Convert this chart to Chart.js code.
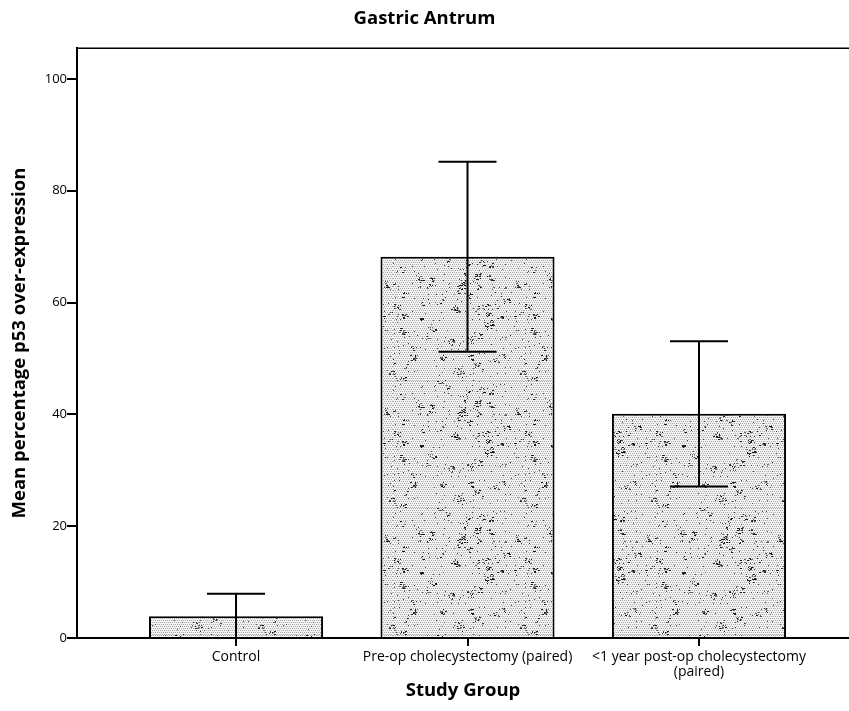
<!DOCTYPE html>
<html>
<head>
<meta charset="utf-8">
<script src="https://cdn.jsdelivr.net/npm/chart.js@4/dist/chart.umd.min.js"></script>
<style>
  html, body { margin: 0; padding: 0; background: #fff; }
  #wrap { width: 849px; height: 711px; }
</style>
</head>
<body>
<div id="wrap"><canvas id="c" width="849" height="711"></canvas></div>
<script>
// ---- data ----
const categories = ["Control", "Pre-op cholecystectomy (paired)", ["<1 year post-op cholecystectomy", "(paired)"]];
const meanValues = [3.9, 68.2, 40.1];
const errorValues = [4.0, 17.0, 13.0];
const yTickValues = [0, 20, 40, 60, 80, 100];

const FONT = "'Open Sans', 'DejaVu Sans', sans-serif";

// stippled bar texture (decoration only)
function makePattern() {
  const W = 131, H = 127;
  const p = document.createElement('canvas');
  p.width = W; p.height = H;
  const g = p.getContext('2d');
  g.fillStyle = '#f3f3f3';
  g.fillRect(0, 0, W, H);
  g.fillStyle = '#a8a8a8';
  for (let y = 0; y < H; y += 2) {
    for (let x = (y / 2) % 2; x < W; x += 2) {
      g.fillRect(x, y, 1, 1);
    }
  }
  let s = 987654;
  const rnd = () => { s = (s * 1103515245 + 12345) % 2147483648; return s / 2147483648; };
  // darker clusters
  for (let k = 0; k < 70; k++) {
    const cx = rnd() * W, cy = rnd() * H;
    const n = 3 + Math.floor(rnd() * 8);
    for (let j = 0; j < n; j++) {
      g.fillStyle = rnd() > 0.4 ? '#1a1a1a' : '#666';
      g.fillRect(Math.floor(cx + (rnd() - 0.5) * 6), Math.floor(cy + (rnd() - 0.5) * 6), 1 + Math.floor(rnd() * 2), 1);
    }
  }
  g.fillStyle = '#444';
  for (let k = 0; k < 250; k++) {
    g.fillRect(Math.floor(rnd() * W), Math.floor(rnd() * H), 1, 1);
  }
  return document.getElementById('c').getContext('2d').createPattern(p, 'repeat');
}

const errorBarPlugin = {
  id: 'errorBars',
  afterDatasetsDraw(chart) {
    const ctx = chart.ctx;
    const meta = chart.getDatasetMeta(0);
    const ys = chart.scales.y;
    ctx.save();
    ctx.strokeStyle = '#000';
    ctx.lineWidth = 2;
    meta.data.forEach((bar, i) => {
      const x = bar.x;
      const capHalf = bar.width / 6;
      const yHi = ys.getPixelForValue(meanValues[i] + errorValues[i]);
      const yLo = Math.min(ys.getPixelForValue(meanValues[i] - errorValues[i]), chart.chartArea.bottom);
      ctx.beginPath();
      ctx.moveTo(x, yHi); ctx.lineTo(x, yLo);
      ctx.moveTo(x - capHalf, yHi); ctx.lineTo(x + capHalf, yHi);
      if (meanValues[i] - errorValues[i] > 0) {
        ctx.moveTo(x - capHalf, yLo); ctx.lineTo(x + capHalf, yLo);
      }
      ctx.stroke();
    });
    // top frame line
    const a = chart.chartArea;
    ctx.lineWidth = 1.5;
    ctx.beginPath();
    ctx.moveTo(a.left, a.top); ctx.lineTo(a.right, a.top);
    ctx.stroke();
    ctx.restore();
  }
};

const chart = new Chart(document.getElementById('c'), {
  type: 'bar',
  data: {
    datasets: [{
      data: meanValues.map((v, i) => ({ x: i, y: v })),
      backgroundColor: makePattern(),
      borderColor: '#000',
      borderWidth: 2,
      barPercentage: 0.752,
      categoryPercentage: 1.0
    }]
  },
  options: {
    responsive: false,
    animation: false,
    layout: { padding: 0 },
    plugins: {
      legend: { display: false },
      tooltip: { enabled: false },
      title: {
        display: true,
        text: 'Gastric Antrum',
        color: '#000',
        font: { family: FONT, size: 18.5, weight: 'bold', lineHeight: 1.2 },
        padding: { top: 8, bottom: 18 }
      }
    },
    scales: {
      x: {
        type: 'linear',
        offset: false,
        min: -0.687,
        max: 2.648,
        afterBuildTicks: (s) => { s.ticks = categories.map((c, i) => ({ value: i })); },
        afterFit: (s) => { s.height = 73; },
        ticks: {
          autoSkip: false,
          maxRotation: 0,
          minRotation: 0,
          padding: 3,
          color: '#000',
          font: { family: FONT, size: 14, lineHeight: 1.1 },
          callback: (v) => categories[v]
        },
        grid: { display: true, offset: false, drawOnChartArea: false, drawTicks: true, tickLength: 8, color: '#000', lineWidth: 2 },
        border: { display: true, color: '#000', width: 2 },
        title: {
          display: true,
          text: 'Study Group',
          color: '#000',
          font: { family: FONT, size: 18.5, weight: 'bold', lineHeight: 1.2 },
          padding: { top: 0, bottom: 9 }
        }
      },
      y: {
        min: 0,
        max: 105.5,
        afterBuildTicks: (s) => { s.ticks = yTickValues.map(v => ({ value: v })); },
        afterFit: (s) => { s.width = 77; },
        ticks: {
          padding: 0,
          color: '#000',
          font: { family: FONT, size: 13 }
        },
        grid: { display: true, drawOnChartArea: false, drawTicks: true, tickLength: 10, color: '#000', lineWidth: 2 },
        border: { display: true, color: '#000', width: 2 },
        title: {
          display: true,
          text: 'Mean percentage p53 over-expression',
          color: '#000',
          font: { family: FONT, size: 18.5, weight: 'bold', lineHeight: 1.2 },
          padding: { top: 9, bottom: 0 }
        }
      }
    }
  },
  plugins: [errorBarPlugin]
});
</script>
</body>
</html>
